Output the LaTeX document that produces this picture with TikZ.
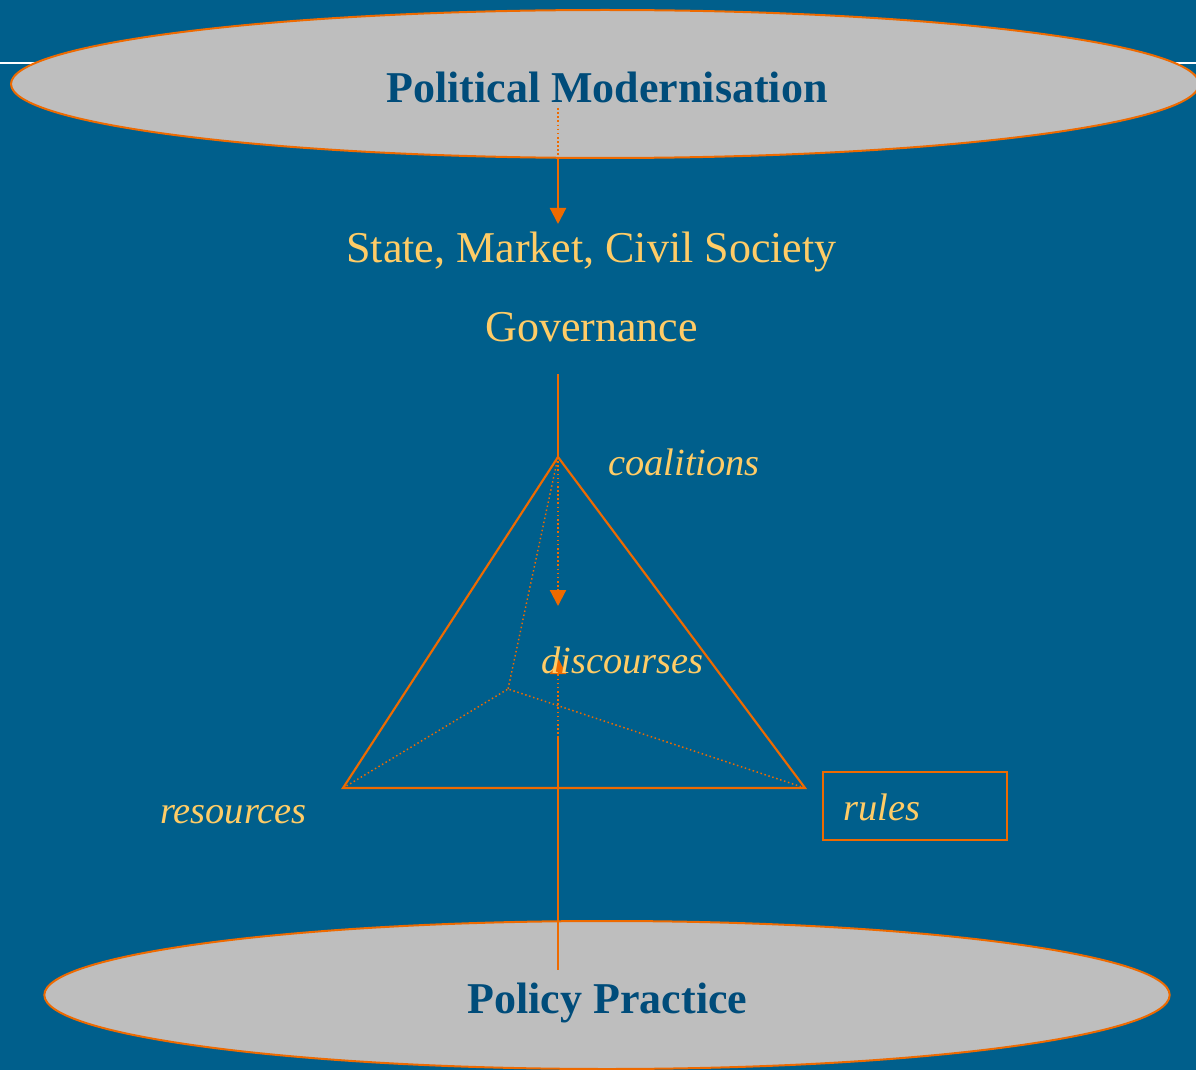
\documentclass[tikz,border=0pt]{standalone}
\usepackage{xcolor}
\usepackage{fontspec}
\setmainfont{Liberation Serif}
\usetikzlibrary{arrows.meta,shapes.geometric}

\begin{document}
\begin{tikzpicture}[x=0.75pt,y=-0.75pt,
    oval/.style={ellipse,draw=linecol,line width=1.5pt,fill=ovalcol,inner sep=0pt,outer sep=0pt},
    heading/.style={anchor=base,text=headcol,font=\fontsize{33}{36}\selectfont\bfseries},
    plain/.style={anchor=base,text=labelcol,font=\fontsize{33}{36}\selectfont},
    corner/.style={anchor=base west,inner sep=0pt,text=labelcol,font=\fontsize{28.8}{32}\selectfont\itshape},
    solidline/.style={draw=linecol,line width=1.6pt},
    dotline/.style={draw=linecol,line width=1.1pt,dash pattern=on 1.1pt off 2pt},
    centredots/.style={draw=linecol,line width=1.6pt,dash pattern=on 1.2pt off 1.9pt},
    tip/.style={-{Triangle[length=12pt,width=12pt]}}]
% Define colours
\definecolor{bgcol}{RGB}{0,95,140}
\definecolor{linecol}{RGB}{238,106,0}
\definecolor{ovalcol}{RGB}{190,190,190}
\definecolor{headcol}{RGB}{0,76,122}
\definecolor{labelcol}{RGB}{255,204,102}

% Background and white rule
\fill[bgcol] (0,0) rectangle (1196,1070);
\useasboundingbox (0,0) rectangle (1196,1070);
\coordinate (ruleleft) at (0,63);
\coordinate (ruleright) at (1196,63);
\draw[white,line width=2pt] (ruleleft) -- (ruleright);

% Ovals
\node[oval,minimum width=891pt,minimum height=111pt] (modern) at (605,84) {};
\node[oval,minimum width=844pt,minimum height=111pt] (practice) at (607,995) {};

% Points on the centre line
\coordinate (modstart) at (558,108);
\coordinate (modedge) at (558,158);
\coordinate (statetip) at (558,224);
\coordinate (govend) at (558,374);
\coordinate (downtip) at (558,606);
\coordinate (uptip) at (558,658);
\coordinate (upsolid) at (558,738);
\coordinate (practend) at (558,970);

% Triangle corners
\coordinate (top) at (558,457);
\coordinate (left) at (343,788);
\coordinate (right) at (805,788);
\coordinate (inner) at (508,689);

% Centre line and arrows
\draw[centredots] (modstart) -- (modedge);
\draw[solidline,tip] (modedge) -- (statetip);
\draw[solidline] (govend) -- (top);
\draw[centredots,tip] (top) -- (downtip);
\draw[centredots,tip] (upsolid) -- (uptip);
\draw[solidline] (upsolid) -- (practend);

% Pyramid
\draw[solidline] (top) -- (left) -- (right) -- cycle;
\draw[dotline] (top) -- (inner);
\draw[dotline] (left) -- (inner);
\draw[dotline] (right) -- (inner);

% Box round rules
\node[draw=linecol,line width=1.5pt,minimum width=138pt,minimum height=51pt,inner sep=0pt,outer sep=0pt] (rulesbox) at (915,806) {};

% Labels
\node[heading] (modernlabel) at (607,103) {Political Modernisation};
\node[heading] (practicelabel) at (607.5,1013) {Policy Practice};
\node[plain] (statelabel) at (591.5,262.3) {State, Market, Civil Society};
\node[plain] (govlabel) at (591.5,341) {Governance};
\node[corner] (coalitionslabel) at (608,475) {coalitions};
\node[corner] (discourseslabel) at (541,673) {discourses};
\node[corner] (resourceslabel) at (160,823.5) {resources};
\node[corner] (ruleslabel) at (843,820) {rules};
\end{tikzpicture}
\end{document}
